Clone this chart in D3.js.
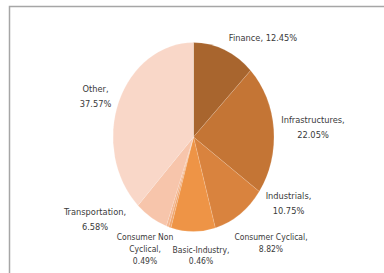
<!DOCTYPE html>
<html>
<head>
<meta charset="utf-8">
<script src="https://cdn.jsdelivr.net/npm/d3@7"></script>
<style>
  body { margin: 0; background: #fff; }
  .lbl { font-family: "Liberation Sans Narrow", "Arial Narrow", "DejaVu Sans Condensed", sans-serif; fill: #3a3a3a; }
</style>
</head>
<body>
<div id="chart"></div>
<script>
// data, clockwise from 12 o'clock
var sectors = ["Finance", "Infrastructures", "Industrials", "Consumer Cyclical",
               "Basic-Industry", "Consumer Non Cyclical", "Transportation", "Other"];
var shares = [12.45, 22.05, 10.75, 8.82, 0.46, 0.49, 6.58, 37.57];
var labelLines = [
  ["Finance, 12.45%"],
  ["Infrastructures,", "22.05%"],
  ["Industrials,", "10.75%"],
  ["Consumer Cyclical,", "8.82%"],
  ["Basic-Industry,", "0.46%"],
  ["Consumer Non", "Cyclical,", "0.49%"],
  ["Transportation,", "6.58%"],
  ["Other,", "37.57%"]
];

var svgwidth = 384;
var svgheight = 273;

// pie is drawn as a circle then squashed into an ellipse
var cx = 193.5, cy = 137;
var rx = 80.5, ry = 94.5;

var colors = ["#a8652e", "#c47535", "#d9833e", "#ee9446",
              "#f0a56c", "#f4b690", "#f7c5ab", "#f9d7c8"];

// label block centres relative to pie centre, plus line step / font size
var labelLayout = [
  {dx: 69.5, dy: -99, step: 14, fs: 9.2},
  {dx: 119.5, dy: -9.5, step: 15, fs: 9.2},
  {dx: 95, dy: 66.5, step: 14.5, fs: 9.2},
  {dx: 77.5, dy: 106, step: 12, fs: 8.5},
  {dx: 7.5, dy: 118.5, step: 11.5, fs: 8.5},
  {dx: -48.5, dy: 112.5, step: 12, fs: 8.5},
  {dx: -98.5, dy: 82.5, step: 15, fs: 9.2},
  {dx: -98, dy: -40.5, step: 15, fs: 9.2}
];

var svg = d3.select("#chart")
    .append("svg")
    .attr("width", svgwidth)
    .attr("height", svgheight);

// frame (only top and left edges visible in the crop)
svg.append("path")
    .attr("d", "M9.5,273 V6.5 H384")
    .attr("fill", "none")
    .attr("stroke", "#a6a6a6")
    .attr("stroke-width", 1.5);

var pie = d3.pie().sort(null).value(d => d);
var arcs = pie(shares);

var arc = d3.arc().innerRadius(0).outerRadius(ry);

var pieGroup = svg.append("g")
    .attr("transform", `translate(${cx},${cy}) scale(${rx / ry},1)`);

pieGroup.selectAll("path")
    .data(arcs)
    .enter()
    .append("path")
    .attr("d", arc)
    .attr("fill", (d, i) => colors[i])
    .attr("stroke", "#ffffff")
    .attr("stroke-opacity", 0.22)
    .attr("stroke-width", 0.6)
    .attr("vector-effect", "non-scaling-stroke");

// labels
var labelGroup = svg.append("g")
    .attr("transform", `translate(${cx},${cy})`);

labelLines.forEach(function(lines, i) {
  var lay = labelLayout[i];
  var top = lay.dy - (lines.length - 1) * lay.step / 2;
  var t = labelGroup.append("text")
      .attr("class", "lbl")
      .attr("text-anchor", "middle")
      .attr("font-size", lay.fs);
  lines.forEach(function(line, j) {
    t.append("tspan")
        .attr("x", lay.dx)
        .attr("y", top + j * lay.step)
        .attr("dy", "0.35em")
        .text(line);
  });
});
</script>
</body>
</html>
